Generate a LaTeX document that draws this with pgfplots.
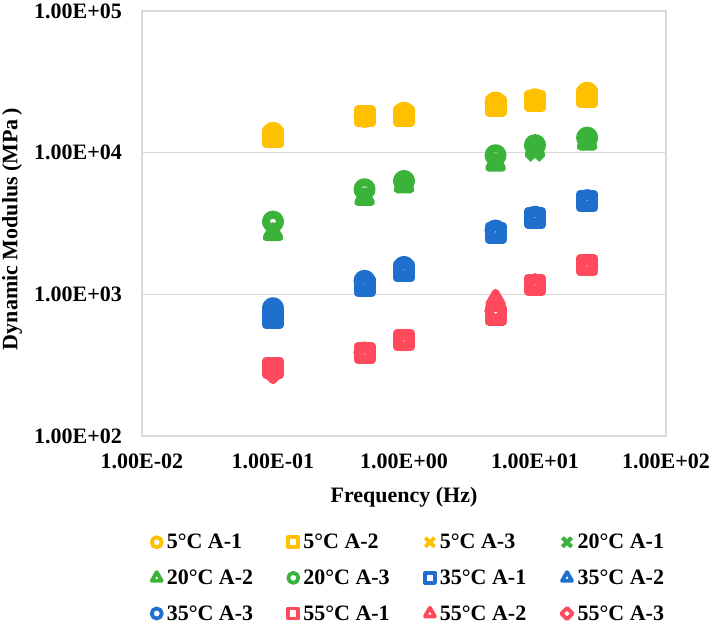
\documentclass[border=0pt]{standalone}
\usepackage{pgfplots}
\pgfplotsset{compat=1.18}
\usepackage{fontspec}
\setmainfont{Liberation Serif}
\definecolor{cY}{HTML}{FFC000}
\definecolor{cG}{HTML}{3BB33B}
\definecolor{cB}{HTML}{1F6FCF}
\definecolor{cR}{HTML}{FF4A5E}
\definecolor{gridc}{HTML}{D9D9D9}
\newcommand{\LE}[1]{\makebox[119.5pt][l]{#1}}
\pgfplotsset{
  xlegend/.style={legend image code/.code={\draw[##1, mark size=6.5pt, line width=4pt] plot coordinates {(0pt,0pt)};}},
}
\begin{document}
\begin{tikzpicture}[every mark/.append style={line join=round}]
\begin{axis}[
  scale only axis, width=524pt, height=425pt,
  xmode=log, ymode=log,
  xmin=0.01, xmax=100, ymin=100, ymax=100000,
  xtick={0.01,0.1,1,10,100},
  xticklabels={1.00E-02,1.00E-01,1.00E+00,1.00E+01,1.00E+02},
  ytick={100,1000,10000,100000},
  yticklabels={1.00E+02,1.00E+03,1.00E+04,1.00E+05},
  xminorticks=false, yminorticks=false,
  major tick length=0pt,
  ymajorgrids, grid style={draw=gridc, line width=1.3pt},
  axis line style={draw=gridc, line width=1.3pt},
  tick label style={font=\bfseries\fontsize{22}{26}\selectfont, inner sep=0pt},
  xticklabel style={yshift=-18pt},
  yticklabel style={xshift=-20pt},
  label style={font=\bfseries\fontsize{22}{26}\selectfont},
  xlabel={Frequency (Hz)},
  ylabel={Dynamic Modulus (MPa\,)},
  xlabel style={at={(axis description cs:0.5,-0.1435)}, anchor=center},
  ylabel style={at={(axis description cs:-0.248,0.487)}, anchor=center, rotate=0},
  legend columns=4,
  legend cell align=left,
  legend image code/.code={\draw[#1, mark size=0.72\pgfplotmarksize, line width=3.8pt] plot coordinates {(0pt,0pt)};},
  legend style={at={(axis description cs:0,0)}, anchor=north west, xshift=9.5pt, yshift=-98pt,
    draw=none, fill=none, inner sep=0pt, row sep=19.5pt,
    font=\bfseries\fontsize{22}{26}\selectfont,
    nodes={inner sep=0pt},
    /tikz/every odd column/.append style={column sep=5pt},
    /tikz/every even column/.append style={column sep=2pt}},
]
% 5 C
\addplot[only marks, color=cY, mark=o, mark size=7pt, line width=8pt] coordinates {(0.1,13800) (0.5,17900) (1,19150) (5,22600) (10,23800) (25,26500)};
\addlegendentry{\LE{5°C A-1}}
\addplot[only marks, color=cY, mark=square, mark size=7pt, line width=8pt] coordinates {(0.1,12800) (0.5,18000) (1,18200) (5,21500) (10,23300) (25,24800)};
\addlegendentry{\LE{5°C A-2}}
\addplot[only marks, color=cY, mark=x, mark size=9.5pt, line width=7pt, xlegend] coordinates {(0.1,13300) (0.5,17800) (1,18600) (5,22100) (10,23500) (25,25400)};
\addlegendentry{\LE{5°C A-3}}
% 20 C
\addplot[only marks, color=cG, mark=x, mark size=9.5pt, line width=7pt, xlegend] coordinates {(0.1,2850) (0.5,5000) (1,6000) (5,8800) (10,10000) (25,12000)};
\addlegendentry{\LE{20°C A-1}}
\addplot[only marks, color=cG, mark=triangle, mark size=8pt, line width=7pt] coordinates {(0.1,2680) (0.5,4750) (1,5840) (5,8290) (10,10300) (25,11700)};
\addlegendentry{\LE{20°C A-2}}
\addplot[only marks, color=cG, mark=o, mark size=7pt, line width=8pt] coordinates {(0.1,3260) (0.5,5520) (1,6310) (5,9590) (10,11300) (25,12770)};
\addlegendentry{\LE{20°C A-3}}
% 35 C
\addplot[only marks, color=cB, mark=square, mark size=7pt, line width=8pt] coordinates {(0.1,678) (0.5,1150) (1,1455) (5,2720) (10,3450) (25,4550)};
\addlegendentry{\LE{35°C A-1}}
\addplot[only marks, color=cB, mark=triangle, mark size=8pt, line width=7pt] coordinates {(0.1,700) (0.5,1200) (1,1500) (5,2760) (10,3490) (25,4580)};
\addlegendentry{\LE{35°C A-2}}
\addplot[only marks, color=cB, mark=o, mark size=7pt, line width=8pt] coordinates {(0.1,798) (0.5,1245) (1,1560) (5,2820) (10,3530) (25,4620)};
\addlegendentry{\LE{35°C A-3}}
% 55 C
\addplot[only marks, color=cR, mark=square, mark size=7pt, line width=8pt] coordinates {(0.1,303) (0.5,384) (1,473) (5,716) (10,1170) (25,1600)};
\addlegendentry{\LE{55°C A-1}}
\addplot[only marks, color=cR, mark=triangle, mark size=8pt, line width=7pt] coordinates {(0.1,285) (0.5,380) (1,470) (5,908) (10,1165) (25,1590)};
\addlegendentry{\LE{55°C A-2}}
\addplot[only marks, color=cR, mark=square, mark size=5.5pt, line width=7pt, mark options={rotate=45, line join=round}] coordinates {(0.1,279) (0.5,388) (1,476) (5,760) (10,1175) (25,1610)};
\addlegendentry{\LE{55°C A-3}}
\end{axis}
\pgfresetboundingbox
\path (-142pt,-190pt) rectangle (571pt,436pt);
\end{tikzpicture}
\end{document}
